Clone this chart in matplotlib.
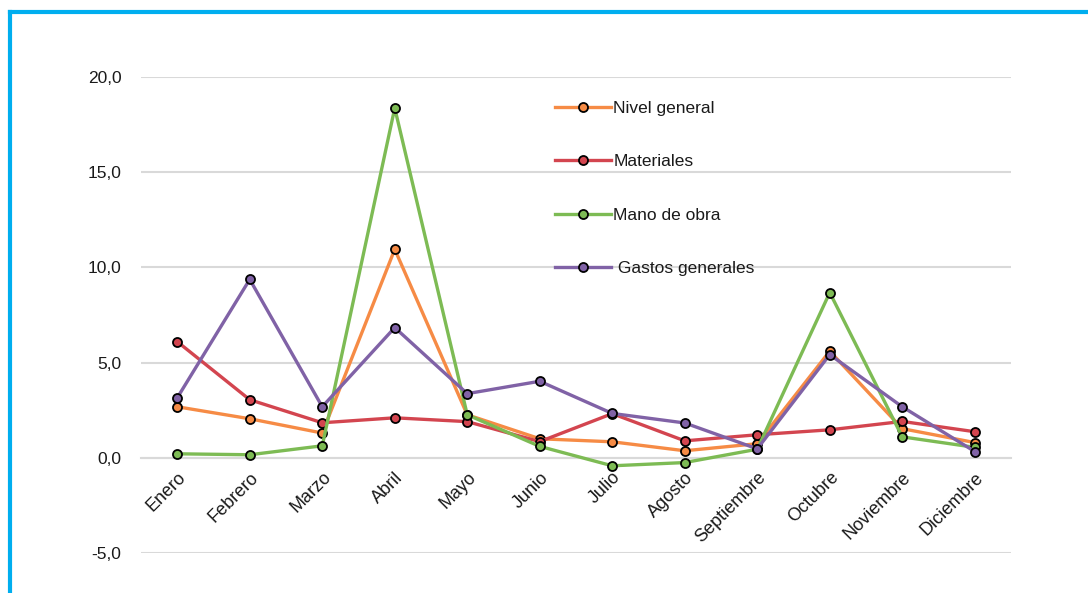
import matplotlib
matplotlib.use("Agg")
import matplotlib.pyplot as plt
from matplotlib.lines import Line2D

months = ["Enero", "Febrero", "Marzo", "Abril", "Mayo", "Junio", "Julio",
          "Agosto", "Septiembre", "Octubre", "Noviembre", "Diciembre"]
nivel_general = [2.68, 2.05, 1.30, 10.95, 2.26, 1.00, 0.84, 0.37, 0.74, 5.60, 1.53, 0.80]
materiales = [6.10, 3.05, 1.84, 2.10, 1.90, 0.85, 2.32, 0.89, 1.21, 1.47, 1.91, 1.37]
mano_de_obra = [0.21, 0.16, 0.63, 18.37, 2.26, 0.60, -0.42, -0.25, 0.45, 8.68, 1.10, 0.55]
gastos_generales = [3.15, 9.37, 2.68, 6.84, 3.37, 4.02, 2.33, 1.83, 0.47, 5.42, 2.68, 0.33]
series_labels = ["Nivel general", "Materiales", "Mano de obra", " Gastos generales"]
y_ticks = [-5, 0, 5, 10, 15, 20]

colors = ["#F68B45", "#D3454F", "#7DBB54", "#8062A6"]
plt.rcParams['font.family'] = ['Liberation Sans', 'DejaVu Sans']

fig = plt.figure(figsize=(10.88, 5.93), dpi=100)
ax = fig.add_axes([141/1088, 1-553/593, 870/1088, 476/593])

x = list(range(len(months)))
for vals, c, lab in zip([nivel_general, materiales, mano_de_obra, gastos_generales], colors, series_labels):
    ax.plot(x, vals, color=c, lw=2.4, marker='o', ms=6.5, mfc=c, mec='black', mew=1.3,
            label=lab, zorder=3)

ax.set_xlim(-0.5, 11.5)
ax.set_ylim(-5, 20)
ax.set_yticks(y_ticks)
ax.set_yticklabels([f"{v:.1f}".replace('.', ',') for v in y_ticks], fontsize=12.5, color='#1a1a1a')
ax.yaxis.grid(True, color='#D9D9D9', lw=1.5, zorder=0)
ax.set_axisbelow(True)
for s in ['left', 'right', 'top']:
    ax.spines[s].set_visible(False)
ax.spines['bottom'].set_position(('data', 0))
ax.spines['bottom'].set_color('#D9D9D9')
ax.spines['bottom'].set_linewidth(1.5)
ax.tick_params(axis='both', length=0)
ax.tick_params(axis='y', pad=14)
ax.set_xticks(x)
ax.set_xticklabels(months, rotation=45, ha='right', rotation_mode='anchor', fontsize=13, color='#1a1a1a')
ax.tick_params(axis='x', pad=8)

leg = ax.legend(loc='upper left', bbox_to_anchor=((555-141)/870, (553-101)/476), frameon=False,
                fontsize=12.5, borderpad=0, borderaxespad=0, handlelength=3.2, handletextpad=0.15,
                labelspacing=2.2, markerscale=1.0)
for t in leg.get_texts():
    t.set_color('#1a1a1a')

# cyan border
fig.add_artist(Line2D([10/1088, 10/1088], [0, 1-12/593], color='#00AEEF', lw=3, transform=fig.transFigure))
fig.add_artist(Line2D([10/1088, 1], [1-12/593, 1-12/593], color='#00AEEF', lw=3, transform=fig.transFigure))

fig.savefig("out.png", dpi=100)
